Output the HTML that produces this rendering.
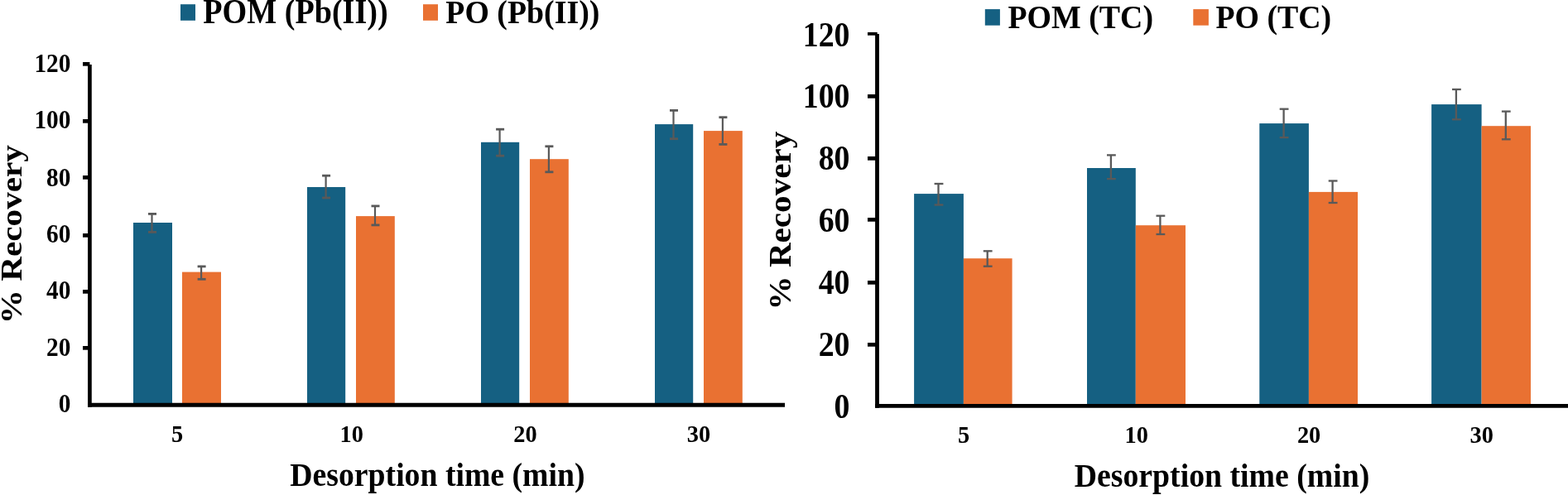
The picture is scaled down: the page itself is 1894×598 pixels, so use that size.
<!DOCTYPE html>
<html><head><meta charset="utf-8"><title>Desorption time vs % Recovery</title>
<style>
html,body{margin:0;padding:0;background:#fff;}
body{width:1894px;height:598px;overflow:hidden;}
svg{display:block;}
text{font-family:'Liberation Serif', 'Times New Roman', serif;font-weight:bold;fill:#000;}
</style></head>
<body>
<svg width="1894" height="598" viewBox="0 0 1894 598">
<rect x="0" y="0" width="1894" height="598" fill="#fff"/>
<rect x="161.00" y="269.00" width="47.00" height="220.30" fill="#156082"/>
<rect x="220.00" y="328.60" width="47.00" height="160.70" fill="#E97132"/>
<rect x="371.00" y="226.00" width="46.20" height="263.30" fill="#156082"/>
<rect x="430.00" y="261.10" width="46.80" height="228.20" fill="#E97132"/>
<rect x="581.00" y="171.80" width="46.20" height="317.50" fill="#156082"/>
<rect x="640.00" y="192.20" width="46.80" height="297.10" fill="#E97132"/>
<rect x="791.00" y="150.10" width="46.20" height="339.20" fill="#156082"/>
<rect x="850.00" y="158.10" width="46.80" height="331.20" fill="#E97132"/>
<line x1="183.50" y1="258.40" x2="183.50" y2="280.40" stroke="#595959" stroke-width="2.2"/>
<line x1="179.00" y1="258.40" x2="189.00" y2="258.40" stroke="#595959" stroke-width="2.8"/>
<line x1="179.00" y1="280.40" x2="189.00" y2="280.40" stroke="#595959" stroke-width="2.8"/>
<line x1="243.10" y1="321.90" x2="243.10" y2="337.30" stroke="#595959" stroke-width="2.2"/>
<line x1="238.60" y1="321.90" x2="248.60" y2="321.90" stroke="#595959" stroke-width="2.8"/>
<line x1="238.60" y1="337.30" x2="248.60" y2="337.30" stroke="#595959" stroke-width="2.8"/>
<line x1="393.60" y1="212.20" x2="393.60" y2="239.00" stroke="#595959" stroke-width="2.2"/>
<line x1="389.10" y1="212.20" x2="399.10" y2="212.20" stroke="#595959" stroke-width="2.8"/>
<line x1="389.10" y1="239.00" x2="399.10" y2="239.00" stroke="#595959" stroke-width="2.8"/>
<line x1="453.00" y1="248.90" x2="453.00" y2="271.90" stroke="#595959" stroke-width="2.2"/>
<line x1="448.50" y1="248.90" x2="458.50" y2="248.90" stroke="#595959" stroke-width="2.8"/>
<line x1="448.50" y1="271.90" x2="458.50" y2="271.90" stroke="#595959" stroke-width="2.8"/>
<line x1="603.60" y1="156.20" x2="603.60" y2="188.20" stroke="#595959" stroke-width="2.2"/>
<line x1="599.10" y1="156.20" x2="609.10" y2="156.20" stroke="#595959" stroke-width="2.8"/>
<line x1="599.10" y1="188.20" x2="609.10" y2="188.20" stroke="#595959" stroke-width="2.8"/>
<line x1="662.90" y1="176.80" x2="662.90" y2="207.80" stroke="#595959" stroke-width="2.2"/>
<line x1="658.40" y1="176.80" x2="668.40" y2="176.80" stroke="#595959" stroke-width="2.8"/>
<line x1="658.40" y1="207.80" x2="668.40" y2="207.80" stroke="#595959" stroke-width="2.8"/>
<line x1="813.50" y1="133.40" x2="813.50" y2="167.70" stroke="#595959" stroke-width="2.2"/>
<line x1="809.00" y1="133.40" x2="819.00" y2="133.40" stroke="#595959" stroke-width="2.8"/>
<line x1="809.00" y1="167.70" x2="819.00" y2="167.70" stroke="#595959" stroke-width="2.8"/>
<line x1="872.90" y1="141.70" x2="872.90" y2="174.40" stroke="#595959" stroke-width="2.2"/>
<line x1="868.40" y1="141.70" x2="878.40" y2="141.70" stroke="#595959" stroke-width="2.8"/>
<line x1="868.40" y1="174.40" x2="878.40" y2="174.40" stroke="#595959" stroke-width="2.8"/>
<line x1="108.40" y1="78.00" x2="108.40" y2="491.75" stroke="#000" stroke-width="4.7"/>
<line x1="106.05" y1="489.30" x2="948.00" y2="489.30" stroke="#000" stroke-width="5.1"/>
<line x1="100.00" y1="77.35" x2="108.40" y2="77.35" stroke="#000" stroke-width="4.7"/>
<line x1="100.00" y1="146.35" x2="108.40" y2="146.35" stroke="#000" stroke-width="4.7"/>
<line x1="100.00" y1="214.35" x2="108.40" y2="214.35" stroke="#000" stroke-width="4.7"/>
<line x1="100.00" y1="284.35" x2="108.40" y2="284.35" stroke="#000" stroke-width="4.7"/>
<line x1="100.00" y1="352.35" x2="108.40" y2="352.35" stroke="#000" stroke-width="4.7"/>
<line x1="100.00" y1="420.35" x2="108.40" y2="420.35" stroke="#000" stroke-width="4.7"/>
<text transform="translate(85.37,87.35) scale(0.9400,1.0000)" font-size="31.2" text-anchor="end">120</text>
<text transform="translate(85.37,155.35) scale(0.9400,1.0000)" font-size="31.2" text-anchor="end">100</text>
<text transform="translate(85.37,224.75) scale(0.9400,1.0000)" font-size="31.2" text-anchor="end">80</text>
<text transform="translate(85.37,292.75) scale(0.9400,1.0000)" font-size="31.2" text-anchor="end">60</text>
<text transform="translate(85.37,360.90) scale(0.9400,1.0000)" font-size="31.2" text-anchor="end">40</text>
<text transform="translate(85.37,429.75) scale(0.9400,1.0000)" font-size="31.2" text-anchor="end">20</text>
<text transform="translate(85.37,497.65) scale(0.9400,1.0000)" font-size="31.2" text-anchor="end">0</text>
<text transform="translate(214.20,533.70) scale(0.9350,1.0000)" font-size="30.4" text-anchor="middle">5</text>
<text transform="translate(424.80,533.70) scale(0.9350,1.0000)" font-size="30.4" text-anchor="middle">10</text>
<text transform="translate(634.40,533.70) scale(0.9350,1.0000)" font-size="30.4" text-anchor="middle">20</text>
<text transform="translate(844.00,533.70) scale(0.9350,1.0000)" font-size="30.4" text-anchor="middle">30</text>
<text transform="translate(350.30,586.60) scale(0.9205,1.0000)" font-size="41.0" text-anchor="start">Desorption time (min)</text>
<text transform="translate(26.00,391.20) rotate(-90) scale(1.0000,0.8800)" font-size="41.2" text-anchor="start">% Recovery</text>
<rect x="218.00" y="5.20" width="18.00" height="19.60" fill="#156082"/>
<text transform="translate(245.30,27.80) scale(0.9280,1.0000)" font-size="41.1" text-anchor="start">POM (Pb(II))</text>
<rect x="511.00" y="5.20" width="18.00" height="19.60" fill="#E97132"/>
<text transform="translate(538.30,27.80) scale(0.9210,1.0000)" font-size="41.1" text-anchor="start">PO (Pb(II))</text>
<rect x="1104.10" y="234.10" width="59.80" height="256.25" fill="#156082"/>
<rect x="1163.90" y="312.20" width="58.70" height="178.15" fill="#E97132"/>
<rect x="1313.00" y="203.00" width="58.80" height="287.35" fill="#156082"/>
<rect x="1371.80" y="272.20" width="60.20" height="218.15" fill="#E97132"/>
<rect x="1521.30" y="149.10" width="59.60" height="341.25" fill="#156082"/>
<rect x="1580.90" y="231.90" width="59.10" height="258.45" fill="#E97132"/>
<rect x="1729.10" y="126.10" width="60.50" height="364.25" fill="#156082"/>
<rect x="1789.60" y="152.20" width="59.40" height="338.15" fill="#E97132"/>
<line x1="1133.50" y1="222.00" x2="1133.50" y2="247.50" stroke="#595959" stroke-width="2.3"/>
<line x1="1128.60" y1="222.00" x2="1139.40" y2="222.00" stroke="#595959" stroke-width="2.3"/>
<line x1="1128.60" y1="247.50" x2="1139.40" y2="247.50" stroke="#595959" stroke-width="2.3"/>
<line x1="1192.70" y1="303.30" x2="1192.70" y2="321.70" stroke="#595959" stroke-width="2.3"/>
<line x1="1187.80" y1="303.30" x2="1198.60" y2="303.30" stroke="#595959" stroke-width="2.3"/>
<line x1="1187.80" y1="321.70" x2="1198.60" y2="321.70" stroke="#595959" stroke-width="2.3"/>
<line x1="1341.90" y1="187.40" x2="1341.90" y2="216.10" stroke="#595959" stroke-width="2.3"/>
<line x1="1337.00" y1="187.40" x2="1347.80" y2="187.40" stroke="#595959" stroke-width="2.3"/>
<line x1="1337.00" y1="216.10" x2="1347.80" y2="216.10" stroke="#595959" stroke-width="2.3"/>
<line x1="1401.40" y1="260.70" x2="1401.40" y2="283.00" stroke="#595959" stroke-width="2.3"/>
<line x1="1396.50" y1="260.70" x2="1407.30" y2="260.70" stroke="#595959" stroke-width="2.3"/>
<line x1="1396.50" y1="283.00" x2="1407.30" y2="283.00" stroke="#595959" stroke-width="2.3"/>
<line x1="1550.60" y1="131.70" x2="1550.60" y2="166.10" stroke="#595959" stroke-width="2.3"/>
<line x1="1545.70" y1="131.70" x2="1556.50" y2="131.70" stroke="#595959" stroke-width="2.3"/>
<line x1="1545.70" y1="166.10" x2="1556.50" y2="166.10" stroke="#595959" stroke-width="2.3"/>
<line x1="1609.60" y1="218.50" x2="1609.60" y2="245.00" stroke="#595959" stroke-width="2.3"/>
<line x1="1604.70" y1="218.50" x2="1615.50" y2="218.50" stroke="#595959" stroke-width="2.3"/>
<line x1="1604.70" y1="245.00" x2="1615.50" y2="245.00" stroke="#595959" stroke-width="2.3"/>
<line x1="1758.90" y1="108.00" x2="1758.90" y2="144.30" stroke="#595959" stroke-width="2.3"/>
<line x1="1754.00" y1="108.00" x2="1764.80" y2="108.00" stroke="#595959" stroke-width="2.3"/>
<line x1="1754.00" y1="144.30" x2="1764.80" y2="144.30" stroke="#595959" stroke-width="2.3"/>
<line x1="1818.80" y1="134.60" x2="1818.80" y2="168.30" stroke="#595959" stroke-width="2.3"/>
<line x1="1813.90" y1="134.60" x2="1824.70" y2="134.60" stroke="#595959" stroke-width="2.3"/>
<line x1="1813.90" y1="168.30" x2="1824.70" y2="168.30" stroke="#595959" stroke-width="2.3"/>
<line x1="1059.50" y1="41.00" x2="1059.50" y2="492.70" stroke="#000" stroke-width="4.8"/>
<line x1="1057.10" y1="490.35" x2="1894.00" y2="490.35" stroke="#000" stroke-width="4.7"/>
<line x1="1048.00" y1="40.85" x2="1059.70" y2="40.85" stroke="#000" stroke-width="3.8"/>
<line x1="1048.00" y1="116.35" x2="1059.50" y2="116.35" stroke="#000" stroke-width="4.7"/>
<line x1="1048.00" y1="191.35" x2="1059.50" y2="191.35" stroke="#000" stroke-width="4.7"/>
<line x1="1048.00" y1="265.35" x2="1059.50" y2="265.35" stroke="#000" stroke-width="4.7"/>
<line x1="1048.00" y1="341.35" x2="1059.50" y2="341.35" stroke="#000" stroke-width="4.7"/>
<line x1="1048.00" y1="416.35" x2="1059.50" y2="416.35" stroke="#000" stroke-width="4.7"/>
<text transform="translate(1026.51,55.79) scale(0.8900,1.0000)" font-size="42.5" text-anchor="end">120</text>
<text transform="translate(1026.51,130.39) scale(0.8900,1.0000)" font-size="42.5" text-anchor="end">100</text>
<text transform="translate(1026.51,205.14) scale(0.8900,1.0000)" font-size="42.5" text-anchor="end">80</text>
<text transform="translate(1026.51,279.79) scale(0.8900,1.0000)" font-size="42.5" text-anchor="end">60</text>
<text transform="translate(1026.51,355.14) scale(0.8900,1.0000)" font-size="42.5" text-anchor="end">40</text>
<text transform="translate(1026.51,429.99) scale(0.8900,1.0000)" font-size="42.5" text-anchor="end">20</text>
<text transform="translate(1026.51,504.99) scale(0.8900,1.0000)" font-size="42.5" text-anchor="end">0</text>
<text transform="translate(1164.00,535.30) scale(0.9350,1.0000)" font-size="30.4" text-anchor="middle">5</text>
<text transform="translate(1372.80,535.30) scale(0.9350,1.0000)" font-size="30.4" text-anchor="middle">10</text>
<text transform="translate(1581.10,535.30) scale(0.9350,1.0000)" font-size="30.4" text-anchor="middle">20</text>
<text transform="translate(1789.70,535.30) scale(0.9350,1.0000)" font-size="30.4" text-anchor="middle">30</text>
<text transform="translate(1297.70,587.50) scale(0.9260,1.0000)" font-size="40.8" text-anchor="start">Desorption time (min)</text>
<text transform="translate(955.20,374.40) rotate(-90) scale(1.0000,0.9300)" font-size="41.1" text-anchor="start">% Recovery</text>
<rect x="1189.80" y="11.10" width="18.10" height="19.60" fill="#156082"/>
<text transform="translate(1217.50,33.60) scale(0.9210,1.0000)" font-size="41.1" text-anchor="start">POM (TC)</text>
<rect x="1441.30" y="11.10" width="18.60" height="19.60" fill="#E97132"/>
<text transform="translate(1468.40,33.60) scale(0.9210,1.0000)" font-size="41.1" text-anchor="start">PO (TC)</text>
</svg>
</body></html>
